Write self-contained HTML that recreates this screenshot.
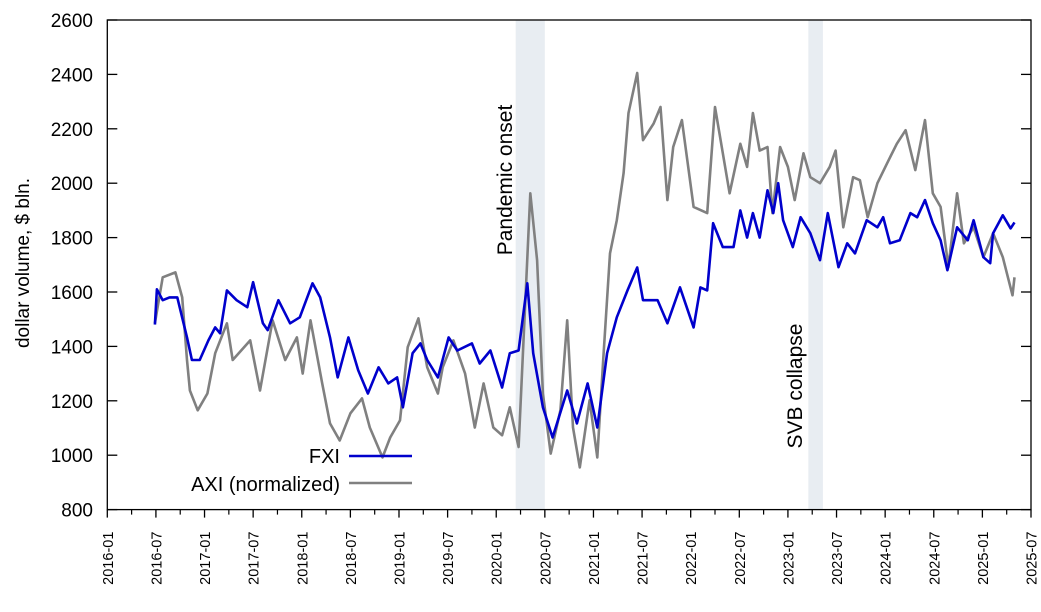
<!DOCTYPE html>
<html><head><meta charset="utf-8"><style>
html,body{margin:0;padding:0;background:#fff;}
svg{display:block;font-family:"Liberation Sans",Arial,sans-serif;}
</style></head><body>
<svg id="chart" width="1041" height="612" viewBox="0 0 1041 612" xmlns="http://www.w3.org/2000/svg">
<g id="bands"></g>
<g id="series"></g>
<g id="axes"></g>
<text x="0" y="0" font-size="21" text-anchor="middle" transform="translate(512,180) rotate(-90)">Pandemic onset</text>
<text x="0" y="0" font-size="21" text-anchor="middle" transform="translate(802,386) rotate(-90)">SVB collapse</text>
<text x="0" y="0" font-size="19" text-anchor="middle" transform="translate(29,263) rotate(-90)">dollar volume, $ bln.</text>
<g>
<text x="340" y="463" font-size="20" text-anchor="end">FXI</text>
<line x1="349" y1="456" x2="412" y2="456" stroke="#0000cc" stroke-width="2.6"/>
<text x="340" y="491" font-size="20" text-anchor="end">AXI (normalized)</text>
<line x1="349" y1="483" x2="412" y2="483" stroke="#808080" stroke-width="2.6"/>
</g>
</svg>
<script>
const yTicks=[800,1000,1200,1400,1600,1800,2000,2200,2400,2600];
const xTickLabels=["2016-01","2016-07","2017-01","2017-07","2018-01","2018-07","2019-01","2019-07","2020-01","2020-07","2021-01","2021-07","2022-01","2022-07","2023-01","2023-07","2024-01","2024-07","2025-01","2025-07"];
const eventStart=[2020.20,2023.21];
const eventEnd=[2020.50,2023.36];
const fxiDates=[2016.49,2016.51,2016.57,2016.64,2016.72,2016.82,2016.87,2016.95,2017.04,2017.11,2017.16,2017.23,2017.33,2017.44,2017.50,2017.60,2017.65,2017.76,2017.88,2017.98,2018.11,2018.19,2018.29,2018.37,2018.48,2018.58,2018.68,2018.79,2018.89,2018.98,2019.04,2019.14,2019.22,2019.29,2019.40,2019.51,2019.60,2019.75,2019.83,2019.94,2020.06,2020.14,2020.23,2020.32,2020.38,2020.48,2020.58,2020.73,2020.83,2020.94,2021.04,2021.14,2021.24,2021.35,2021.45,2021.51,2021.66,2021.76,2021.89,2022.03,2022.10,2022.17,2022.23,2022.33,2022.44,2022.51,2022.58,2022.64,2022.71,2022.79,2022.85,2022.90,2022.95,2023.05,2023.13,2023.23,2023.33,2023.41,2023.52,2023.61,2023.69,2023.81,2023.92,2023.98,2024.05,2024.15,2024.26,2024.33,2024.41,2024.49,2024.57,2024.64,2024.74,2024.85,2024.91,2025.01,2025.08,2025.11,2025.21,2025.29,2025.33];
const fxiValues=[1480,1610,1570,1580,1580,1433,1350,1350,1422,1470,1448,1606,1570,1544,1636,1485,1460,1570,1485,1507,1632,1580,1433,1286,1433,1312,1227,1323,1264,1286,1176,1375,1411,1350,1286,1433,1385,1411,1337,1385,1249,1375,1385,1632,1375,1176,1065,1238,1117,1264,1102,1375,1507,1606,1690,1570,1570,1485,1617,1470,1617,1606,1853,1765,1765,1900,1800,1890,1800,1974,1890,2000,1864,1765,1875,1816,1717,1890,1691,1779,1742,1864,1838,1875,1779,1790,1890,1875,1938,1853,1790,1680,1838,1790,1864,1728,1706,1816,1882,1834,1856];
const axiDates=[2016.49,2016.57,2016.70,2016.77,2016.82,2016.85,2016.93,2017.03,2017.11,2017.23,2017.29,2017.47,2017.57,2017.70,2017.83,2017.95,2018.01,2018.09,2018.21,2018.29,2018.39,2018.50,2018.62,2018.70,2018.83,2018.91,2019.01,2019.09,2019.20,2019.29,2019.40,2019.45,2019.56,2019.68,2019.78,2019.87,2019.97,2020.06,2020.14,2020.23,2020.35,2020.42,2020.48,2020.56,2020.66,2020.73,2020.79,2020.86,2020.96,2021.04,2021.10,2021.17,2021.24,2021.31,2021.36,2021.45,2021.51,2021.62,2021.69,2021.76,2021.82,2021.91,2022.03,2022.17,2022.25,2022.40,2022.51,2022.58,2022.64,2022.71,2022.79,2022.84,2022.92,2023.00,2023.07,2023.16,2023.23,2023.33,2023.43,2023.49,2023.57,2023.67,2023.74,2023.82,2023.92,2024.02,2024.12,2024.21,2024.31,2024.41,2024.49,2024.57,2024.65,2024.74,2024.81,2024.91,2025.01,2025.11,2025.21,2025.31,2025.33];
const axiValues=[1485,1654,1672,1580,1350,1238,1165,1227,1375,1485,1350,1422,1238,1496,1350,1433,1300,1496,1264,1117,1054,1154,1209,1102,992,1065,1128,1397,1503,1323,1227,1323,1422,1300,1102,1264,1102,1073,1176,1030,1963,1717,1227,1006,1165,1496,1102,955,1202,992,1350,1742,1864,2037,2258,2405,2158,2220,2280,1938,2133,2232,1913,1890,2280,1963,2145,2060,2258,2120,2133,1890,2133,2060,1938,2110,2022,2000,2060,2120,1838,2022,2011,1875,2000,2073,2145,2195,2048,2232,1963,1913,1691,1963,1779,1838,1728,1816,1728,1588,1654];

const L=107.3,R=1031,T=20,B=509.6,X0=2016.0,X1=2025.5,Y0=800,Y1=2600;
const NS="http://www.w3.org/2000/svg";
function xs(d){return L+(d-X0)/(X1-X0)*(R-L);}
function ys(v){return B-(v-Y0)/(Y1-Y0)*(B-T);}
function mk(tag,attrs,parent){const e=document.createElementNS(NS,tag);for(const k in attrs)e.setAttribute(k,attrs[k]);parent.appendChild(e);return e;}
function labelToYear(s){const p=s.split("-");return +p[0]+(+p[1]-1)/12;}

const bands=document.getElementById("bands");
for(let i=0;i<eventStart.length;i++){
  const r=mk("rect",{x:xs(eventStart[i]),y:T,width:xs(eventEnd[i])-xs(eventStart[i]),height:B-T,fill:"#e8edf2"},bands);
  
  
}

const ser=document.getElementById("series");
function drawLine(dates,vals,color,name){
  let d="";
  for(let i=0;i<dates.length;i++){d+=(i?"L":"M")+xs(dates[i]).toFixed(1)+","+ys(vals[i]).toFixed(1);}
  const p=mk("path",{d:d,fill:"none",stroke:color,"stroke-width":2.6,"stroke-linejoin":"round"},ser);
  
  
}
drawLine(axiDates,axiValues,"#808080","axi-line");
drawLine(fxiDates,fxiValues,"#0000cc","fxi-line");

const ax=document.getElementById("axes");
const frame=mk("rect",{x:L,y:T,width:R-L,height:B-T,fill:"none",stroke:"#000","stroke-width":1.3},ax);


yTicks.forEach(v=>{
  const y=ys(v);
  mk("line",{x1:L,x2:L+10,y1:y,y2:y,stroke:"#000","stroke-width":1.3},ax);
  mk("line",{x1:R-10,x2:R,y1:y,y2:y,stroke:"#000","stroke-width":1.3},ax);
  const t=mk("text",{x:93,y:y+7,"font-size":19,"text-anchor":"end"},ax);
  t.textContent=v;
  
  
});
xTickLabels.forEach((s,i)=>{
  const yr=labelToYear(s),x=xs(yr);
  mk("line",{x1:x,x2:x,y1:B,y2:B+8,stroke:"#000","stroke-width":1.3},ax);
  if(i<xTickLabels.length-1){const xm=xs(yr+0.25);mk("line",{x1:xm,x2:xm,y1:B,y2:B+5,stroke:"#000","stroke-width":1.2},ax);}
  const t=mk("text",{x:0,y:0,"font-size":14.5,"text-anchor":"end",transform:"translate("+(x+5.5)+","+(B+22)+") rotate(-90)"},ax);
  t.textContent=s;
  
  
});
</script>
</body></html>
